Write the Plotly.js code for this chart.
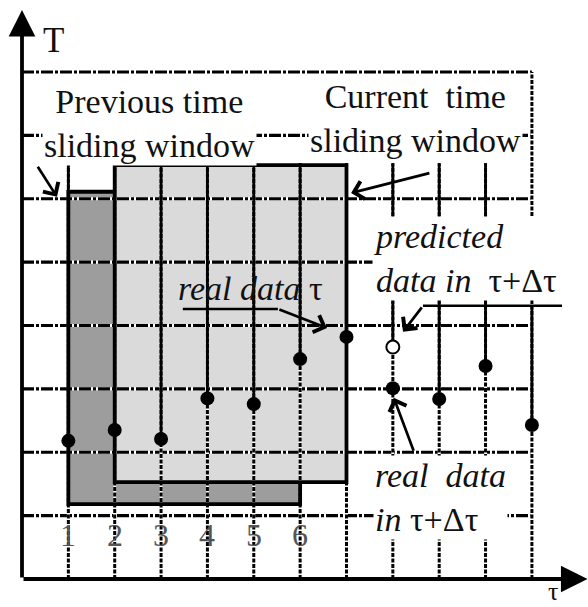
<!DOCTYPE html>
<html><head><meta charset="utf-8">
<script src="https://cdn.plot.ly/plotly-3.0.1.min.js"></script>
<style>html,body{margin:0;padding:0;background:#fff}</style>
</head><body><div id="chart" style="width:588px;height:607px"></div>
<script>
// ---- data ----
const stepX = [1, 2, 3, 4, 5, 6, 7, 8, 9, 10, 11];
const stepLabels = ['1', '2', '3', '4', '5', '6'];
const realT = [2.18, 2.35, 2.21, 2.85, 2.76, 3.47, 3.82, 3.01, 2.84, 3.36, 2.43];
const predictedX = [8];
const predictedT = [3.66];
const gridT = [1, 2, 3, 4, 5, 6, 7, 8];
const prevWindow = [1, 6];
const currWindow = [2, 7];

// ---- drawing ----
const FONT = 'Liberation Serif, Times New Roman, serif';
const shapes = [];
const prevLow = 1.18, prevHigh = 6.11, currLow = 1.53, currHigh = 6.53;
const stemTop = 6.56;
const lastX = stepX[stepX.length - 1];

// window fills
shapes.push({type: 'rect', xref: 'x', yref: 'y', x0: prevWindow[0], x1: prevWindow[1], y0: prevLow, y1: prevHigh,
  fillcolor: '#9d9d9d', line: {width: 0}, layer: 'below'});
shapes.push({type: 'rect', xref: 'x', yref: 'y', x0: currWindow[0], x1: currWindow[1], y0: currLow, y1: currHigh,
  fillcolor: '#dadada', line: {width: 0}, layer: 'below'});

function dashedLine(x0, y0, x1, y1, w, dash) {
  shapes.push({type: 'line', xref: 'x', yref: 'y', x0, y0, x1, y1, line: {color: '#fff', width: w}, layer: 'below'});
  shapes.push({type: 'line', xref: 'x', yref: 'y', x0, y0, x1, y1, line: {color: '#000', width: w, dash}, layer: 'below'});
}
// horizontal grid
gridT.forEach(t => dashedLine(0, t, lastX, t, 3.2, '12px,2px,3px,2px'));
// vertical grid
stepX.forEach(x => dashedLine(x, 0, x, x === lastX ? gridT[gridT.length - 1] : stemTop, 3, '4px,1.5px'));

// window borders
shapes.push({type: 'path', xref: 'x', yref: 'y', layer: 'below', line: {color: '#000', width: 3.8},
  path: `M${currWindow[0]},${prevHigh} L${prevWindow[0]},${prevHigh} L${prevWindow[0]},${prevLow} L${prevWindow[1]},${prevLow} L${prevWindow[1]},${currLow}`});
shapes.push({type: 'rect', xref: 'x', yref: 'y', layer: 'below', x0: currWindow[0], x1: currWindow[1], y0: currLow, y1: currHigh,
  line: {color: '#000', width: 3.8}, fillcolor: 'rgba(0,0,0,0)'});

// stems (last one stops at the predicted-arrow leader, above it the grid stays dashed)
const leaderT = 4.31;
stepX.forEach((x, i) => {
  const pi = predictedX.indexOf(x);
  const base = pi >= 0 ? predictedT[pi] : realT[i];
  const top = x === lastX ? leaderT : stemTop;
  shapes.push({type: 'line', xref: 'x', yref: 'y', layer: 'below', x0: x, x1: x, y0: base, y1: top, line: {color: '#000', width: 2.8}});
});

// arrow leader segments
shapes.push({type: 'line', xref: 'x', yref: 'y', x0: 3.47, y0: 4.26, x1: 5.52, y1: 4.26, line: {color: '#000', width: 2.5}});
shapes.push({type: 'line', xref: 'x', yref: 'y', x0: 11.65, y0: leaderT, x1: 8.65, y1: leaderT, line: {color: '#000', width: 2.5}});

const annotations = [];
function arrow(xh, yh, xt, yt, head, size, width) {
  annotations.push({x: xh, y: yh, ax: xt, ay: yt, xref: 'x', yref: 'y', axref: 'x', ayref: 'y', text: '',
    showarrow: true, arrowhead: head, arrowsize: size, arrowwidth: width, arrowcolor: '#000', standoff: 0, startstandoff: 0});
}
// axes
arrow(0, 8.98, 0, 0, 2, 1.4, 3.8);
arrow(12.2, 0, 0, 0, 2, 1.4, 3.8);
// pointers
arrow(0.755, 6.03, 0.32, 6.53, 4, 1.3, 2.7);
arrow(7.10, 6.09, 8.82, 6.41, 4, 1.3, 2.7);
arrow(6.58, 3.96, 5.52, 4.26, 4, 1.3, 2.7);
arrow(8.22, 3.90, 8.65, leaderT, 4, 1.3, 2.7);
arrow(8.02, 2.86, 8.46, 2.00, 4, 1.3, 2.7);

function label(x, y, text, size, opts) {
  annotations.push(Object.assign({x, y, xref: 'x', yref: 'y', text, showarrow: false,
    font: {family: FONT, size, color: '#111'}, xanchor: 'center', yanchor: 'middle', align: 'center'}, opts || {}));
}
label(2.74, 7.19, 'Previous time<br>sliding window', 34, {bgcolor: '#fff', borderpad: 1});
label(8.48, 7.26, 'Current\u00a0 time<br>sliding window', 34, {bgcolor: '#fff', borderpad: 1});
label(7.55, 5.05, '<i>predicted</i><br><i>data in</i>\u00a0 \u03c4+\u0394\u03c4', 34, {bgcolor: '#fff', xanchor: 'left', align: 'left', borderpad: 1});
label(7.57, 1.29, '<i>real\u00a0 data</i><br><i>in</i> \u03c4+\u0394\u03c4', 34, {bgcolor: '#fff', xanchor: 'left', align: 'left', borderpad: 1});
label(3.33, 4.59, '<i>real data</i> \u03c4', 34, {xanchor: 'left'});
stepLabels.forEach((t, i) => label(stepX[i], 0.70, t, 32, {font: {family: FONT, size: 32, color: '#555'}}));
label(0.69, 8.5, 'T', 35);
label(11.45, 0, '\u03c4', 26, {yshift: -12, borderpad: 0});

const traces = [
  {x: stepX, y: realT, type: 'scatter', mode: 'markers', marker: {color: '#000', size: 14}, cliponaxis: false, hoverinfo: 'skip'},
  {x: predictedX, y: predictedT, type: 'scatter', mode: 'markers',
    marker: {color: '#fff', size: 13, line: {color: '#000', width: 2}}, cliponaxis: false, hoverinfo: 'skip'}
];

const layout = {
  width: 588, height: 607,
  margin: {l: 22, r: 0, t: 0, b: 28},
  paper_bgcolor: '#fff', plot_bgcolor: 'rgba(0,0,0,0)',
  showlegend: false,
  xaxis: {range: [0, 12.21], visible: false, fixedrange: true},
  yaxis: {range: [0, 9.136], visible: false, fixedrange: true},
  shapes, annotations
};
Plotly.newPlot('chart', traces, layout, {displayModeBar: false, staticPlot: true});
</script></body></html>
